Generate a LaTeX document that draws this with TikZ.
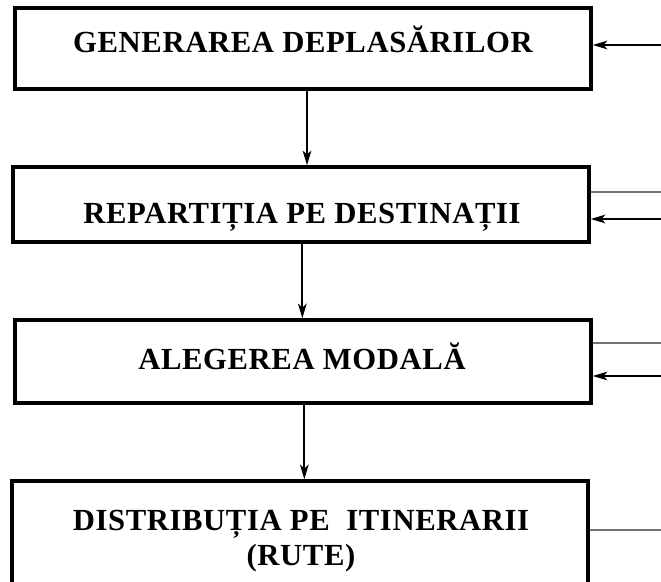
\documentclass[tikz,border=0pt]{standalone}
\usepackage{fontspec}
\setmainfont{Liberation Serif}[LetterSpace=2]
\usetikzlibrary{positioning,arrows.meta}

\begin{document}
\begin{tikzpicture}[x=0.75pt,y=-0.75pt,
  box/.style={draw,line width=2.6pt,minimum width=432pt,inner sep=0pt},
  lbl/.style={font=\fontsize{23}{26.5}\bfseries\selectfont,align=center,inner sep=0pt},
  arr/.style={-{Stealth[length=11pt,width=6.5pt,inset=3pt]},line width=1.3pt},
  feed/.style={line width=1.3pt,draw=black!55}]
  \useasboundingbox (0,0) rectangle (661,582);

  \node[box,minimum height=60.75pt] (gen)  at (303,48.5) {};
  \node[box,minimum height=56.25pt] (rep)  at (301,204.5) {};
  \node[box,minimum height=62.25pt] (alg)  at (303,361.5) {};
  \node[box,minimum height=90pt]    (dist) at (300,541) {};

  \node[lbl] (tgen)  at (303,39)  {GENERAREA DEPLASĂRILOR};
  \node[lbl] (trep)  at (302,217) {REPARTIȚIA PE DESTINAȚII};
  \node[lbl] (talg)  at (302,356) {ALEGEREA MODALĂ};
  \node[lbl] (tdist) at (301,541) {DISTRIBUȚIA PE\ \ ITINERARII\\(RUTE)};

  \draw[arr] ([xshift=3pt]gen.south) coordinate (a1) -- (a1 |- rep.north);
  \draw[arr] ([xshift=1pt]rep.south) coordinate (a2) -- (a2 |- alg.north);
  \draw[arr] ([xshift=1pt]alg.south) coordinate (a3) -- (a3 |- dist.north);

  % intrari si iesiri din dreapta
  \coordinate (in1)  at (661,45);
  \coordinate (out2) at (661,192);
  \coordinate (in2)  at (661,219);
  \coordinate (out3) at (661,343);
  \coordinate (in3)  at (661,376);
  \coordinate (out4) at (661,530);

  \draw[arr,line width=1.4pt] (in1) -- (in1 -| gen.east);
  \draw[feed] (rep.east |- out2) -- (out2);
  \draw[arr] (in2) -- (in2 -| rep.east);
  \draw[feed] (alg.east |- out3) -- (out3);
  \draw[arr] (in3) -- (in3 -| alg.east);
  \draw[feed] (dist.east |- out4) -- (out4);
\end{tikzpicture}
\end{document}
